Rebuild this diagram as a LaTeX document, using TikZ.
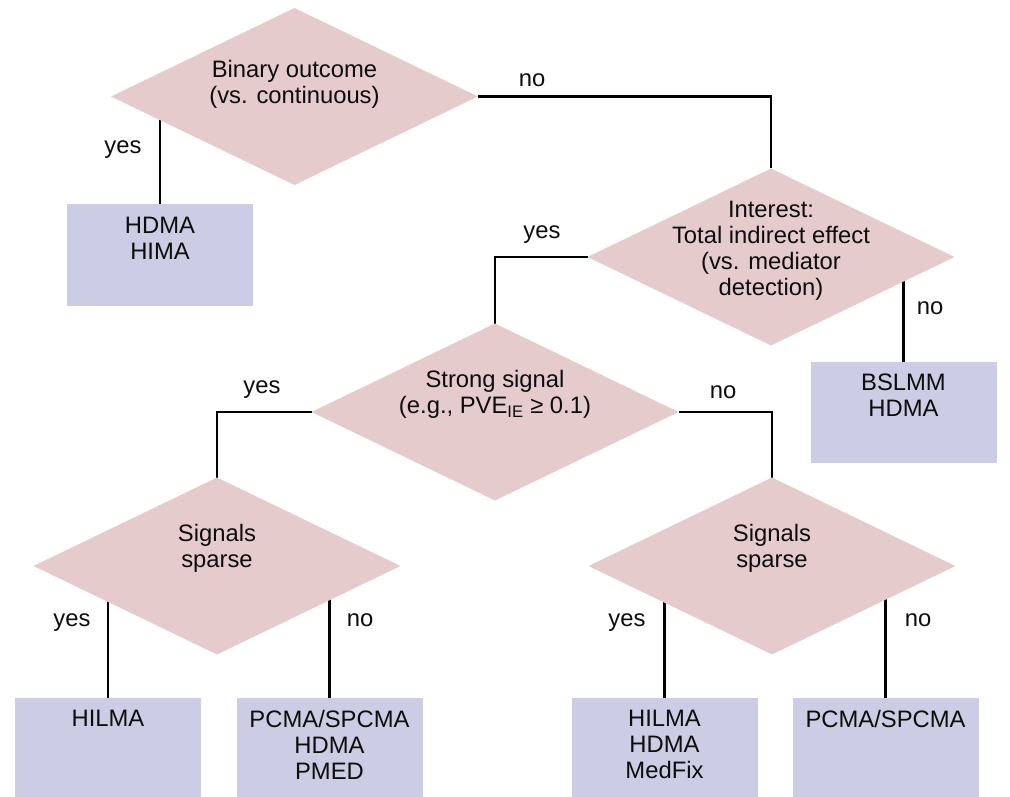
\documentclass[tikz,border=0pt]{standalone}
\usepackage{fontspec}
\setmainfont{Liberation Sans}
\usetikzlibrary{shapes.geometric,positioning,backgrounds}
\definecolor{decpink}{RGB}{230,203,204}
\definecolor{outblue}{RGB}{204,204,228}

\begin{document}
\begin{tikzpicture}[x=1pt, y=-1pt,
    every node/.style={font=\fontsize{23.8}{26}\selectfont, text=black!95},
    decision/.style={diamond, fill=decpink, minimum width=367pt, minimum height=177pt, inner sep=0pt, outer sep=0pt},
    outcome/.style={rectangle, fill=outblue, minimum width=186pt, minimum height=101pt, inner sep=0pt, outer sep=0pt},
    txt/.style={align=center, inner sep=0pt},
    edge/.style={line width=2.6pt}]
    \useasboundingbox (0, 0) rectangle (1010, 797);

    % Entscheidungen
    \node[decision] (d1) at (294.5, 96.5) {};
    \node[decision] (d2) at (771, 257) {};
    \node[decision] (d3) at (495, 412) {};
    \node[decision] (d4) at (217, 566) {};
    \node[decision] (d5) at (772, 566) {};
    \node[txt] (t1) at (294.5, 84.5) {Binary outcome\\(vs. continuous)};
    \node[txt] (t2) at (771, 250.5) {Interest:\\Total indirect effect\\(vs. mediator\\detection)};
    \node[txt] (t3) at (495, 394.5) {Strong signal\\(e.g., PVE\textsubscript{IE} ≥ 0.1)};
    \node[txt] (t4) at (217, 548) {Signals\\sparse};
    \node[txt] (t5) at (772, 548) {Signals\\sparse};

    % Methoden
    \node[outcome] (b1) at (160, 255) {};
    \node[outcome] (b2) at (903.5, 412.5) {};
    \node[outcome] (b3) at (108, 748.5) {};
    \node[outcome] (b4) at (329.5, 748.5) {};
    \node[outcome] (b5) at (664.5, 748.5) {};
    \node[outcome] (b6) at (885.5, 748.5) {};
    \node[txt, below=12pt of b1.north] (m1) {HDMA\\HIMA};
    \node[txt, below=12pt of b2.north] (m2) {BSLMM\\HDMA};
    \node[txt, below=12pt of b3.north] (m3) {HILMA};
    \node[txt, below=12pt of b4.north] (m4) {PCMA/SPCMA\\HDMA\\PMED};
    \node[txt, below=12pt of b5.north] (m5) {HILMA\\HDMA\\MedFix};
    \node[txt, below=12pt of b6.north] (m6) {PCMA/SPCMA};

    % Verbindungen
    \begin{scope}[on background layer]
        \draw[edge] (d1.east) -| (d2.north);
        \draw[edge] (d2.west) -| (d3.north);
        \draw[edge] (d3.west) -| (d4.north);
        \draw[edge] (d3.east) -| (d5.north);
        \draw[edge] (b1.north) -- (b1.north |- d1.center);
        \draw[edge] (b2.north) -- (b2.north |- d2.center);
        \draw[edge] (b3.north) -- (b3.north |- d4.center);
        \draw[edge] (b4.north) -- (b4.north |- d4.center);
        \draw[edge] (b5.north) -- (b5.north |- d5.center);
        \draw[edge] (b6.north) -- (b6.north |- d5.center);
    \end{scope}

    % Beschriftungen
    \node (y1) at (123, 150) {yes};
    \node (n1) at (532, 80) {no};
    \node (y2) at (542, 235) {yes};
    \node (n2) at (930, 308) {no};
    \node (y3) at (262, 390) {yes};
    \node (n3) at (723, 392) {no};
    \node (y4) at (72, 623) {yes};
    \node (n4) at (360, 620) {no};
    \node (y5) at (627, 623) {yes};
    \node (n5) at (918, 620) {no};
\end{tikzpicture}
\end{document}
